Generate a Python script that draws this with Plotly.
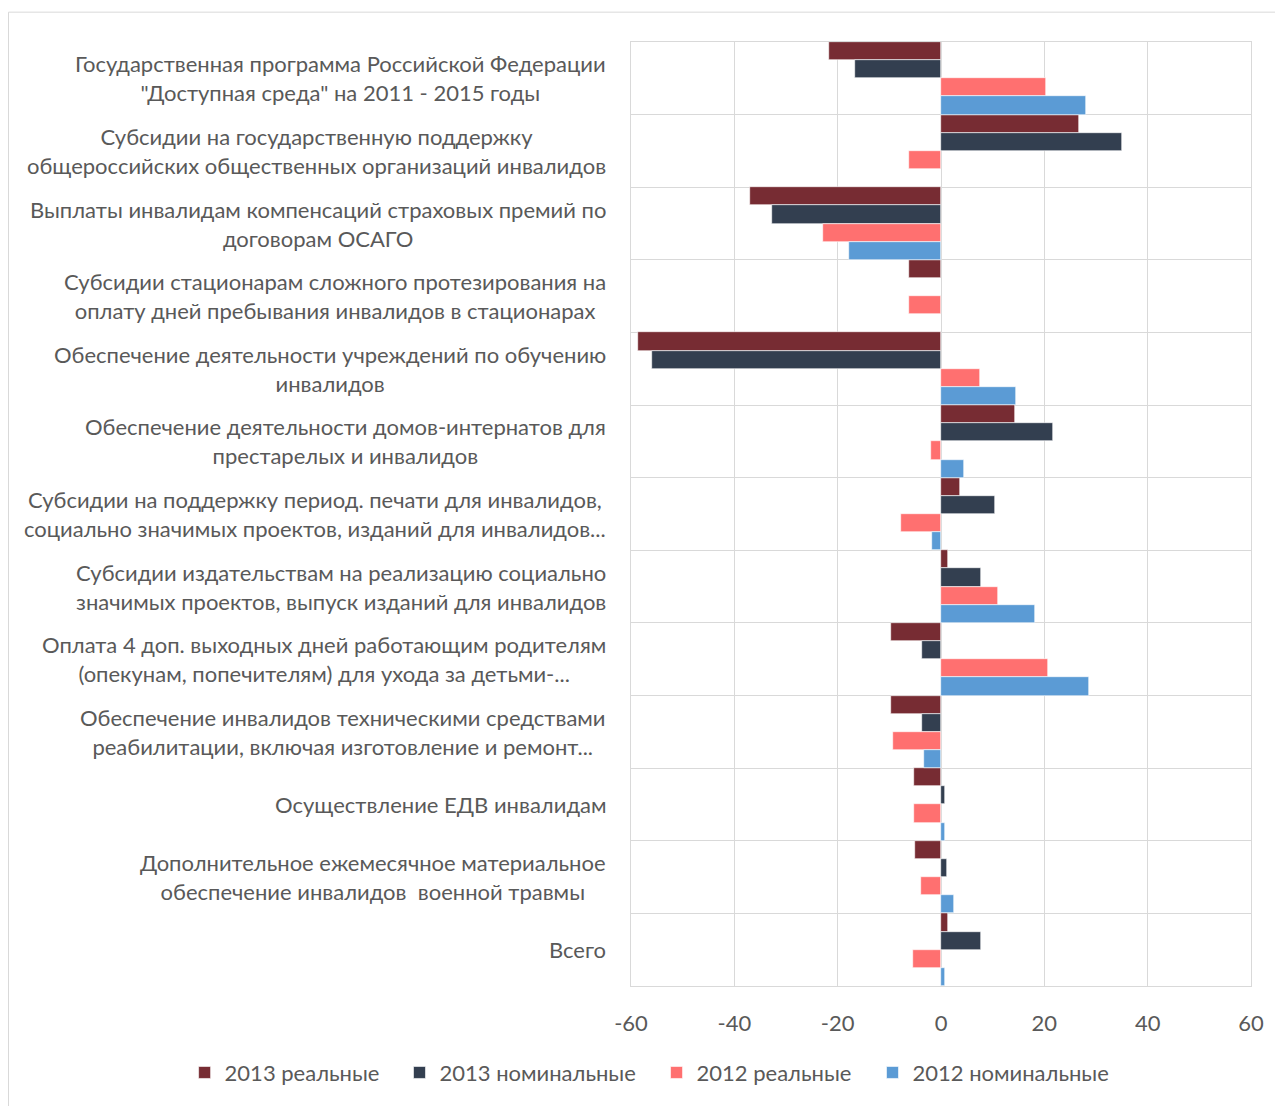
import plotly.graph_objects as go

categories = [
    "Государственная программа Российской Федерации<br>\"Доступная среда\" на 2011 - 2015 годы",
    "Субсидии на государственную поддержку<br>общероссийских общественных организаций инвалидов",
    "Выплаты инвалидам компенсаций страховых премий по<br>договорам ОСАГО",
    "Субсидии стационарам сложного протезирования на<br>оплату дней пребывания инвалидов в стационарах",
    "Обеспечение деятельности учреждений по обучению<br>инвалидов",
    "Обеспечение деятельности домов-интернатов для<br>престарелых и инвалидов",
    "Субсидии на поддержку период. печати для инвалидов,<br>социально значимых проектов, изданий для инвалидов...",
    "Субсидии издательствам на реализацию социально<br>значимых проектов, выпуск изданий для инвалидов",
    "Оплата 4 доп. выходных дней работающим родителям<br>(опекунам, попечителям) для ухода за детьми-...",
    "Обеспечение инвалидов техническими средствами<br>реабилитации, включая изготовление и ремонт...",
    "Осуществление ЕДВ инвалидам",
    "Дополнительное ежемесячное материальное<br>обеспечение инвалидов  военной травмы",
    "Всего",
]

series_names = ["2013 реальные", "2013 номинальные", "2012 реальные", "2012 номинальные"]
real_2013 = [-21.7, 26.8, -37.0, -6.1, -58.7, 14.3, 3.6, 1.3, -9.6, -9.6, -5.3, -5.0, 1.3]
nominal_2013 = [-16.6, 35.0, -32.8, None, -56.0, 21.7, 10.4, 7.7, -3.7, -3.6, 0.8, 1.1, 7.8]
real_2012 = [20.4, -6.1, -22.9, -6.1, 7.6, -1.9, -7.7, 11.0, 20.8, -9.3, -5.3, -3.8, -5.4]
nominal_2012 = [28.1, None, -17.8, None, 14.6, 4.4, -1.7, 18.2, 28.7, -3.3, 0.8, 2.5, 0.7]
colors = ["#772C33", "#333F50", "#FF7070", "#5B9BD5"]

x_ticks = [-60, -40, -20, 0, 20, 40, 60]

FONT = "Lato"
GRAY = "#595959"
GRID = "#d9d9d9"
FS = 22

legend_ids = ["legend2", "legend3", "legend4", "legend5"]
legend_x = [-0.7200, -0.3734, 0.0412, 0.3895]

fig = go.Figure()
ids = list(range(len(categories)))
for name, vals, col, lg in zip(series_names, [real_2013, nominal_2013, real_2012, nominal_2012], colors, legend_ids):
    fig.add_trace(go.Bar(
        y=ids, x=vals, name=name, orientation="h", legend=lg,
        marker=dict(color=col, line=dict(color="white", width=0.6)),
    ))

annotations = []
for i, c in enumerate(categories):
    annotations.append(dict(
        x=0, xref="paper", y=i, yref="y", text=c, showarrow=False,
        xanchor="right", yanchor="middle", align="center", xshift=-23,
        font=dict(family=FONT, size=FS, color=GRAY),
    ))

legend_common = dict(
    orientation="h", xref="paper", yref="paper", xanchor="left",
    y=-0.0918, yanchor="middle", bgcolor="rgba(0,0,0,0)",
    font=dict(family=FONT, size=FS, color=GRAY), itemwidth=30,
)

layout_legends = {lg: dict(legend_common, x=lx) for lg, lx in zip(legend_ids, legend_x)}

fig.update_layout(
    width=1275, height=1098,
    margin=dict(l=623, r=32, t=34, b=116),
    paper_bgcolor="white", plot_bgcolor="white",
    barmode="group", bargap=0, bargroupgap=0,
    font=dict(family=FONT, size=FS, color=GRAY),
    annotations=annotations,
    shapes=[dict(type="rect", xref="paper", yref="paper",
                 x0=-1.004, x1=1.2, y0=-0.3, y1=1.0316,
                 line=dict(color=GRID, width=1), layer="below")],
    **layout_legends,
)

fig.update_xaxes(
    range=[-60, 60], tickvals=x_ticks, ticktext=[str(v) for v in x_ticks],
    showgrid=True, gridcolor=GRID, gridwidth=1,
    zeroline=True, zerolinecolor=GRID, zerolinewidth=1,
    showline=True, linecolor=GRID, linewidth=1, mirror=True,
    ticks="", ticklabelstandoff=18,
    tickfont=dict(family=FONT, size=FS, color=GRAY),
)
fig.update_yaxes(
    type="linear", range=[12.5, -0.5], tickvals=[i - 0.5 for i in range(len(categories) + 1)],
    showticklabels=False, showgrid=True, gridcolor=GRID, gridwidth=1,
    zeroline=False, showline=True, linecolor=GRID, linewidth=1, mirror=True, ticks="",
)

fig.write_html("out.html")
